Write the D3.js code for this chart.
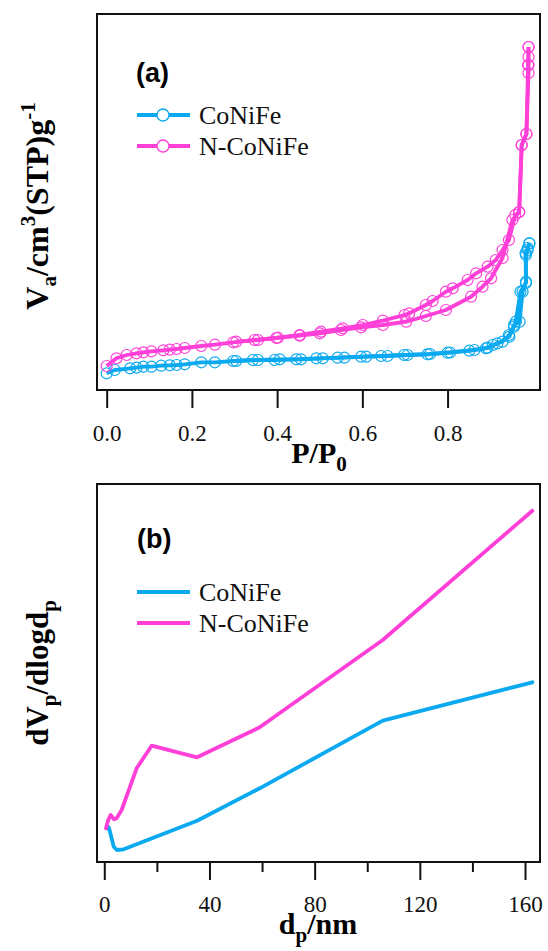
<!DOCTYPE html>
<html>
<head>
<meta charset="utf-8">
<script src="https://cdn.jsdelivr.net/npm/d3@7"></script>
<style>
  body { margin: 0; background: #fff; }
  svg text { font-family: "Liberation Serif", "Times New Roman", serif; }
</style>
</head>
<body>
<svg id="fig" width="548" height="951" font-family="Liberation Serif, Times New Roman, serif"></svg>
<script>
// (a) N2 isotherms: relative pressure P/P0 and adsorbed volume (arb. units, the figure has no y ticks)
var coAdsP = [0, 0.019, 0.055, 0.070, 0.086, 0.105, 0.128, 0.148, 0.164, 0.183, 0.222, 0.254, 0.297, 0.343, 0.394, 0.445, 0.492, 0.542, 0.597, 0.644, 0.698, 0.753, 0.800, 0.851, 0.894, 0.917, 0.945, 0.956, 0.969, 0.976, 0.984, 0.984, 0.988, 0.992];
var coAdsV = [16.7, 20, 21.7, 22.3, 23.3, 23.3, 24.3, 24.7, 25, 25.7, 27.7, 27.7, 29, 30, 30, 30.7, 31.7, 32.3, 33.3, 34, 35, 35.7, 37.3, 39.3, 42.3, 46.7, 53.3, 65, 68.3, 98.3, 108.3, 135, 140, 146.7];
var coDesP = [0.992, 0.988, 0.983, 0.984, 0.971, 0.960, 0.956, 0.944, 0.929, 0.906, 0.890, 0.863, 0.806, 0.759, 0.706, 0.659, 0.609, 0.558, 0.507, 0.456, 0.406, 0.355, 0.304];
var coDesV = [146.7, 142, 137, 107, 98.3, 68.3, 63.3, 55, 48.3, 45, 41.7, 40, 37.5, 36, 35, 34, 33.3, 32.3, 31.7, 30.7, 30.7, 30, 29];

var nAdsP = [0, 0.023, 0.047, 0.070, 0.086, 0.105, 0.133, 0.148, 0.164, 0.183, 0.222, 0.254, 0.297, 0.347, 0.398, 0.453, 0.500, 0.550, 0.597, 0.648, 0.703, 0.749, 0.796, 0.855, 0.882, 0.902, 0.929, 0.952, 0.968, 0.974, 0.985, 0.990, 0.990, 0.990, 0.990];
var nAdsV = [24, 31.7, 35, 36.7, 37.7, 38.7, 39.7, 40.3, 41, 42, 44, 45.3, 47.7, 50, 52, 54.3, 56.7, 60, 62.7, 65, 68.3, 74, 80, 93.3, 103.3, 111.7, 132, 170, 178, 245, 256, 317, 325, 333, 343];
var nDesP = [0.990, 0.989, 0.985, 0.974, 0.968, 0.959, 0.944, 0.929, 0.913, 0.894, 0.867, 0.847, 0.812, 0.796, 0.765, 0.749, 0.710, 0.699, 0.648, 0.601, 0.554, 0.503, 0.453, 0.402, 0.355, 0.304];
var nDesV = [343, 325, 256, 245, 178, 175, 150, 140, 130, 123.3, 116.7, 110, 101.7, 98.3, 89, 85, 76.7, 75, 69.3, 65, 61.7, 58.3, 55, 52.3, 50, 48.3];

// (b) pore size distribution: pore diameter (nm) and dVp/dlogdp (arb. units)
var coPoreD = [1.0, 1.6, 2.0, 3.6, 4.8, 7.4, 35.3, 59.1, 105.9, 162.8];
var coPoreV = [33.7, 35, 32, 15.3, 12, 12.7, 41.3, 73.7, 141.3, 179.7];
var nPoreD = [0.65, 1.5, 2.4, 3.7, 4.7, 6.6, 12.3, 18.0, 35.3, 59.1, 105.9, 162.8];
var nPoreV = [33.7, 42, 47, 42.7, 43.7, 52, 93.7, 116.3, 104.7, 134.7, 222, 351.3];

var seriesNames = ["CoNiFe", "N-CoNiFe"];
var seriesColors = ["#0AA9F0", "#FF3FD8"];
var ticksA = [0, 0.2, 0.4, 0.6, 0.8];
var ticksB = [0, 40, 80, 120, 160];
var minorB = [20, 60, 100, 140];

var SERIF = "'Liberation Serif', 'Times New Roman', serif";
var SANS = "'Liberation Sans', Arial, sans-serif";

function zip(xs, ys) { return xs.map(function (x, i) { return [x, ys[i]]; }); }

var svg = d3.select("#fig");
var L = 97, R = 540;
var panA = { top: 14, bottom: 390 };
var panB = { top: 484, bottom: 862 };

var xA = d3.scaleLinear().domain([-0.0227, 1.0169]).range([L, R]);
var yA = d3.scaleLinear().domain([0, 376]).range([panA.bottom, panA.top]);
var xB = d3.scaleLinear().domain([-2.77, 165.7]).range([L, R]);
var yB = d3.scaleLinear().domain([0, 378]).range([panB.bottom, panB.top]);

function frame(p) {
  svg.append("rect")
    .attr("x", L).attr("y", p.top)
    .attr("width", R - L).attr("height", p.bottom - p.top)
    .attr("fill", "none").attr("stroke", "#111").attr("stroke-width", 2);
}

function styleAxis(g) {
  g.attr("font-family", null);
  g.select(".domain").remove();
  g.selectAll("line").attr("stroke", "#111").attr("stroke-width", 2);
  g.selectAll("text").attr("fill", "#111")
    .style("font-family", SERIF).style("font-size", "23px");
}

// ---------- panel (a)
var axA = svg.append("g").attr("transform", "translate(0," + panA.bottom + ")")
  .call(d3.axisBottom(xA).tickValues(ticksA).tickSize(18).tickPadding(17).tickFormat(d3.format(".1f")));
styleAxis(axA);

var lineA = d3.line().x(function (d) { return xA(d[0]); }).y(function (d) { return yA(d[1]); });
var isoSets = [
  [zip(coAdsP, coAdsV), zip(coDesP, coDesV)],
  [zip(nAdsP, nAdsV), zip(nDesP, nDesV)]
];
isoSets.forEach(function (branches, si) {
  var g = svg.append("g");
  branches.forEach(function (pts) {
    g.append("path").datum(pts).attr("d", lineA)
      .attr("fill", "none").attr("stroke", seriesColors[si])
      .attr("stroke-width", 3.8).attr("stroke-linejoin", "round");
  });
  branches.forEach(function (pts) {
    g.selectAll(null).data(pts).enter().append("circle")
      .attr("cx", function (d) { return xA(d[0]); })
      .attr("cy", function (d) { return yA(d[1]); })
      .attr("r", 5.5).attr("fill", "none")
      .attr("stroke", seriesColors[si]).attr("stroke-width", 1.2);
  });
});
frame(panA);

// ---------- panel (b)
var axB = svg.append("g").attr("transform", "translate(0," + panB.bottom + ")")
  .call(d3.axisBottom(xB).tickValues(ticksB).tickSize(18).tickPadding(16).tickFormat(d3.format("d")));
styleAxis(axB);
var axBm = svg.append("g").attr("transform", "translate(0," + panB.bottom + ")")
  .call(d3.axisBottom(xB).tickValues(minorB).tickSize(10).tickFormat(""));
styleAxis(axBm);

var lineB = d3.line().x(function (d) { return xB(d[0]); }).y(function (d) { return yB(d[1]); });
[zip(coPoreD, coPoreV), zip(nPoreD, nPoreV)].forEach(function (pts, si) {
  svg.append("path").datum(pts).attr("d", lineB)
    .attr("fill", "none").attr("stroke", seriesColors[si])
    .attr("stroke-width", 3.8).attr("stroke-linejoin", "round").attr("stroke-linecap", "round");
});
frame(panB);

// ---------- legends and panel letters
function legend(y0, withMarker) {
  seriesNames.forEach(function (name, i) {
    var y = y0 + i * 31;
    svg.append("line").attr("x1", 137).attr("x2", 190).attr("y1", y).attr("y2", y)
      .attr("stroke", seriesColors[i]).attr("stroke-width", 3.8);
    if (withMarker) {
      svg.append("circle").attr("cx", 163).attr("cy", y).attr("r", 6)
        .attr("fill", "#fff").attr("stroke", seriesColors[i]).attr("stroke-width", 1.3);
    }
    svg.append("text").attr("x", 199).attr("y", y + 9)
      .attr("font-family", SERIF).style("font-family", SERIF)
      .style("font-size", "26px").attr("fill", "#111").text(name);
  });
}
legend(115, true);
legend(592, false);

svg.append("text").attr("x", 136).attr("y", 82)
  .attr("font-family", SANS).style("font-family", SANS)
  .style("font-size", "27px").style("font-weight", "bold").text("(a)");
svg.append("text").attr("x", 137).attr("y", 548)
  .attr("font-family", SANS).style("font-family", SANS)
  .style("font-size", "27px").style("font-weight", "bold").text("(b)");

// ---------- axis titles
function title(g, parts) {
  g.style("font-family", SERIF);
  parts.forEach(function (p) {
    var t = g.append("tspan").text(p[0]);
    if (p[1] === "sub") t.style("font-size", "21px").attr("dy", 8);
    else if (p[1] === "sup") t.style("font-size", "21px").attr("dy", -13);
    else if (p[1] === "back") t.attr("dy", p[2]);
  });
}
var tA = svg.append("text").attr("x", 319).attr("y", 463).attr("text-anchor", "middle")
  .style("font-size", "30px").style("font-weight", "bold");
title(tA, [["P/P"], ["0", "sub"]]);

var tB = svg.append("text").attr("x", 318).attr("y", 934).attr("text-anchor", "middle")
  .style("font-size", "30px").style("font-weight", "bold");
title(tB, [["d"], ["p", "sub"], ["/nm", "back", -8]]);

var yTA = svg.append("text").attr("transform", "translate(48," + ((panA.top + panA.bottom) / 2 + 4) + ") rotate(-90)")
  .attr("text-anchor", "middle").style("font-size", "32px").style("font-weight", "bold");
title(yTA, [["V"], ["a", "sub"], ["/cm", "back", -8], ["3", "sup"], ["(STP)g", "back", 13], ["-1", "sup"]]);

var yTB = svg.append("text").attr("transform", "translate(48," + ((panB.top + panB.bottom) / 2) + ") rotate(-90)")
  .attr("text-anchor", "middle").style("font-size", "31px").style("font-weight", "bold");
title(yTB, [["dV"], ["p", "sub"], ["/dlogd", "back", -8], ["p", "sub"]]);
</script>
</body>
</html>
